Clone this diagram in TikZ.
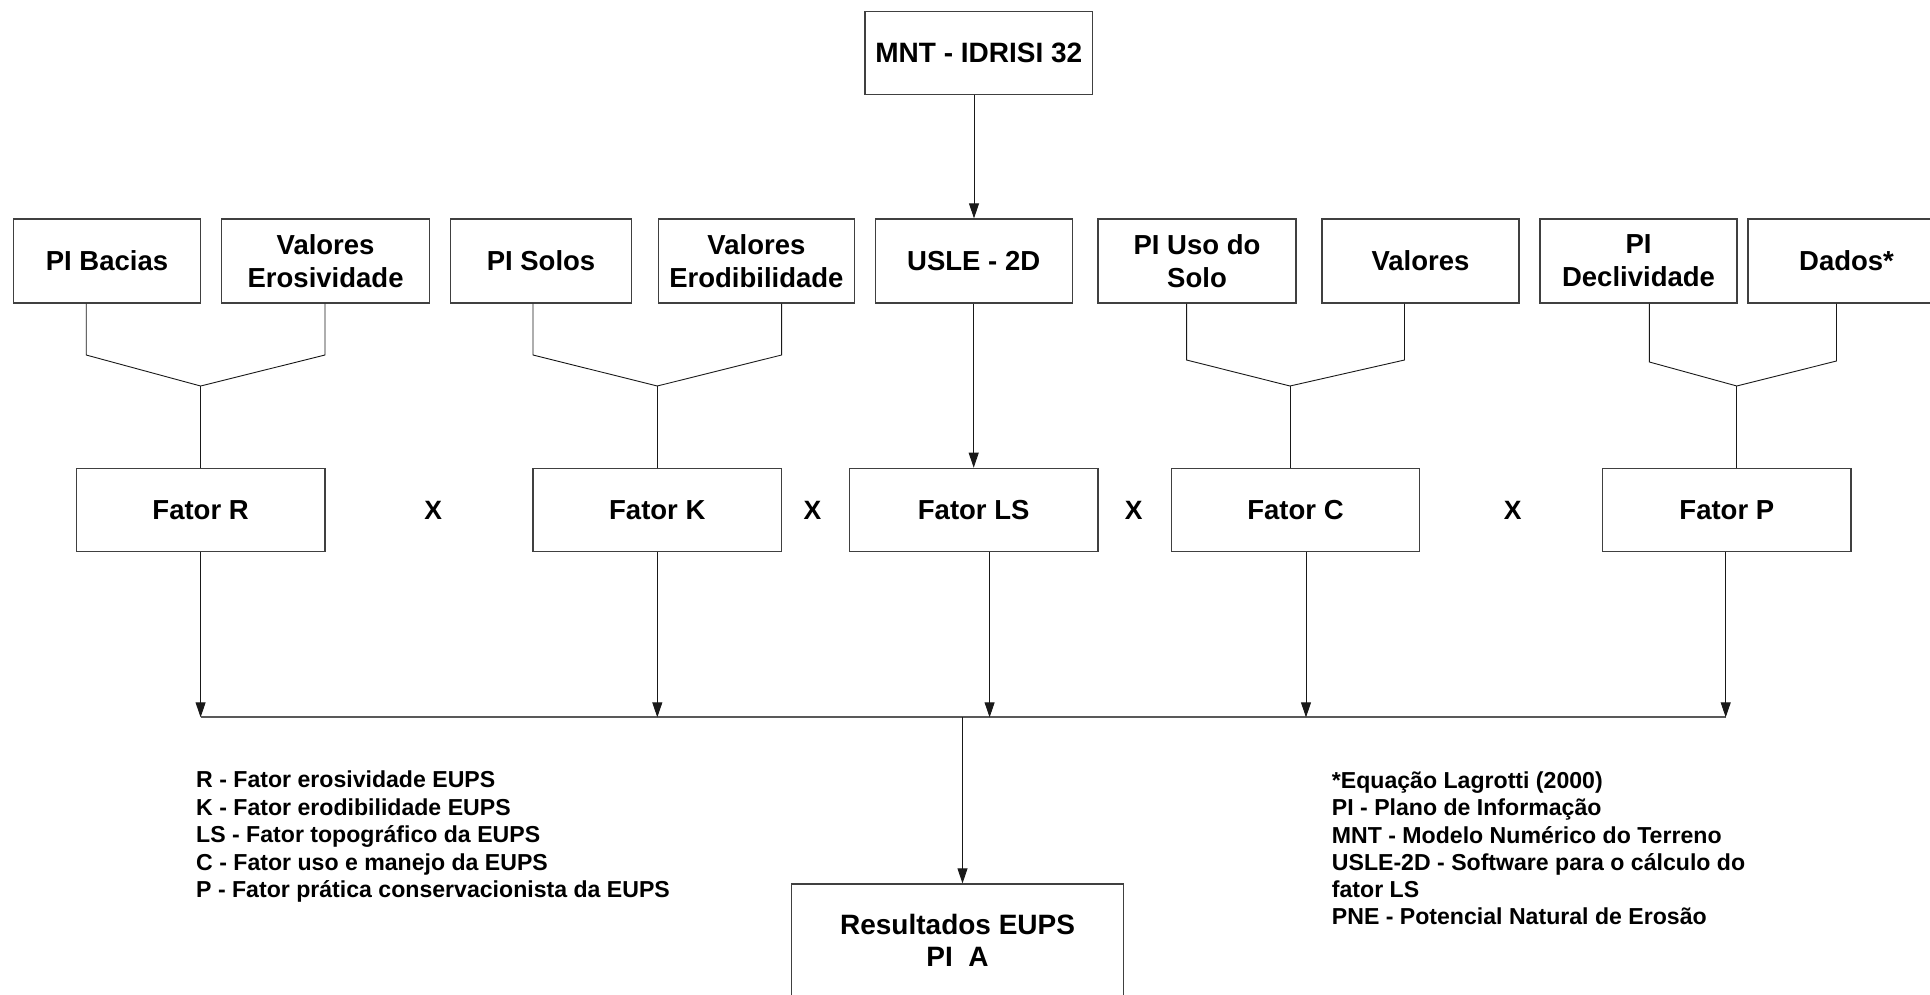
\documentclass[tikz,border=0pt]{standalone}
\usepackage{fontspec}
\setmainfont{Liberation Sans}
\usetikzlibrary{arrows.meta}
\begin{document}
\begin{tikzpicture}[x=1pt,y=-1pt,
  box/.style={draw=black!75, line width=1.3pt, fill=white, align=center, inner sep=0pt,
    font=\bfseries\fontsize{27.5}{33}\selectfont},
  topbox/.style={box, minimum height=84pt},
  fbox/.style={box, minimum width=248.6pt, minimum height=83.4pt,
    font=\bfseries\fontsize{27.5}{33}\selectfont},
  conn/.style={draw=black!90, line width=0.9pt},
  arr/.style={conn, -{Triangle[length=15pt,width=10pt]}},
  bus/.style={draw=black!65, line width=1.8pt},
  leg/.style={anchor=base west, inner sep=0pt, font=\bfseries\fontsize{23.1}{27.5}\selectfont},
  times/.style={inner sep=0pt, font=\bfseries\fontsize{26.5}{30}\selectfont}
]
\useasboundingbox (0,0) rectangle (1930,994);

% top node
\node[box, minimum width=227.7pt, minimum height=82.6pt, font=\bfseries\fontsize{28}{33}\selectfont] (mnt) at (978.8,53) {MNT - IDRISI 32};

% top row
\node[topbox, minimum width=187pt]   (pib) at (107,261)   {PI Bacias};
\node[topbox, minimum width=208pt]   (ver) at (325.6,261) {Valores\\Erosividade};
\node[topbox, minimum width=181pt]   (pis) at (541,261)   {PI Solos};
\node[topbox, minimum width=195.7pt] (ved) at (756.4,261) {Valores\\Erodibilidade};
\node[topbox, minimum width=197pt]   (usle) at (973.7,261) {USLE - 2D};
\node[topbox, minimum width=198pt]   (piu) at (1197,261)  {PI Uso do\\Solo};
\node[topbox, minimum width=197pt]   (val) at (1420.5,261) {Valores};
\node[topbox, minimum width=197pt]   (pid) at (1638.5,261) {PI\\Declividade};
\node[topbox, minimum width=197pt]   (dad) at (1846.5,261) {Dados*};

% factor row
\node[fbox] (fr)  at (200.6,510)  {Fator R};
\node[fbox] (fk)  at (657.3,510)  {Fator K};
\node[fbox] (fls) at (973.7,510)  {Fator LS};
\node[fbox] (fc)  at (1295.5,510) {Fator C};
\node[fbox] (fp)  at (1726.8,510) {Fator P};

\node[times] (x1) at (433.3,510)  {X};
\node[times] (x2) at (812.4,510)  {X};
\node[times] (x3) at (1133.7,510) {X};
\node[times] (x4) at (1512.8,510) {X};

% result
\node[box, minimum width=332.3pt, minimum height=112pt, font=\bfseries\fontsize{28}{32}\selectfont] (res) at (957.6,940) {Resultados EUPS\\PI\ \ A};

% arrows from MNT and USLE
\draw[arr] (974,0 |- mnt.south) -- (974,0 |- usle.north);
\draw[arr] (usle.south) -- (fls.north);

% joins
\coordinate (jr) at (200.6,386);
\coordinate (jk) at (657.3,386);
\coordinate (jc) at (1290,386);
\coordinate (jp) at (1736.8,386);
\draw[conn] (86.2,0 |- pib.south) -- (86.2,355) -- (jr) -- (325,355) -- (325,0 |- ver.south);
\draw[conn] (jr) -- (fr.north);
\draw[conn] (533,0 |- pis.south) -- (533,355) -- (jk) -- (781.6,355) -- (781.6,0 |- ved.south);
\draw[conn] (jk) -- (fk.north);
\draw[conn] (1186.6,0 |- piu.south) -- (1186.6,360) -- (jc) -- (1404.5,360) -- (1404.5,0 |- val.south);
\draw[conn] (jc) -- (1290,0 |- fc.north);
\draw[conn] (1649.4,0 |- pid.south) -- (1649.4,362) -- (jp) -- (1836.5,361) -- (1836.5,0 |- dad.south);
\draw[conn] (jp) -- (1736.8,0 |- fp.north);

% bus
\coordinate (bR) at (200.6,717.3);
\coordinate (bK) at (657.3,717.3);
\coordinate (bL) at (989.6,717.3);
\coordinate (bC) at (1306,717.3);
\coordinate (bP) at (1725.7,717.3);
\coordinate (bO) at (962.5,717.3);
\draw[bus] (bR) -- (bP);
\draw[arr] (fr.south) -- (bR);
\draw[arr] (fk.south) -- (bK);
\draw[arr] (989.6,0 |- fls.south) -- (bL);
\draw[arr] (1306,0 |- fc.south) -- (bC);
\draw[arr] (1725.7,0 |- fp.south) -- (bP);
\draw[arr] (bO) -- (962.5,0 |- res.north);

% legends
\node[leg] (l1) at (196,787.5) {R - Fator erosividade EUPS};
\node[leg] (l2) at (196,815)   {K - Fator erodibilidade EUPS};
\node[leg] (l3) at (196,842.5) {LS - Fator topográfico da EUPS};
\node[leg] (l4) at (196,870)   {C - Fator uso e manejo da EUPS};
\node[leg] (l5) at (196,897.5) {P - Fator prática conservacionista da EUPS};

\node[leg] (r1) at (1331.7,788)   {*Equação Lagrotti (2000)};
\node[leg] (r2) at (1331.7,815.5) {PI - Plano de Informação};
\node[leg] (r3) at (1331.7,843)   {MNT - Modelo Numérico do Terreno};
\node[leg] (r4) at (1331.7,870)   {USLE-2D - Software para o cálculo do};
\node[leg] (r5) at (1331.7,897)   {fator LS};
\node[leg] (r6) at (1331.7,924.5) {PNE - Potencial Natural de Erosão};
\end{tikzpicture}
\end{document}
